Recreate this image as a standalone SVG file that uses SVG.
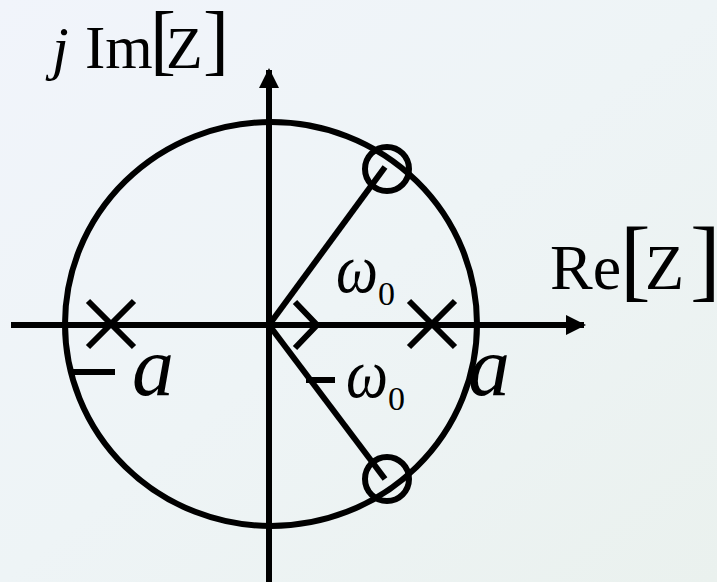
<svg xmlns="http://www.w3.org/2000/svg" width="717" height="582" viewBox="0 0 717 582">
<defs>
<linearGradient id="bg" x1="0" y1="0" x2="1" y2="1">
<stop offset="0" stop-color="#f1f4fb"/>
<stop offset="0.5" stop-color="#eef4f6"/>
<stop offset="1" stop-color="#eaf1ee"/>
</linearGradient>
<marker id="ah" viewBox="0 0 10 10" refX="9" refY="5" markerWidth="3.4" markerHeight="3.4" markerUnits="strokeWidth" orient="auto">
<path d="M0,0 L10,5 L0,10 z" fill="#000"/>
</marker>
</defs>
<style>
.ln{stroke:#000;stroke-width:6;fill:none}
.t{font-family:"Liberation Serif","Times New Roman",serif;fill:#000}
.i{font-style:italic}
</style>
<rect width="717" height="582" fill="url(#bg)"/>
<g id="axes">
<line class="ln" x1="11" y1="325" x2="584" y2="325" marker-end="url(#ah)"/>
<line class="ln" x1="269" y1="582" x2="269" y2="70" marker-end="url(#ah)"/>
</g>
<g id="unit-circle"><ellipse class="ln" cx="271" cy="324" rx="206" ry="202"/></g>
<g id="connectors">
<line class="ln" x1="269" y1="325" x2="385" y2="167"/>
<line class="ln" x1="269" y1="325" x2="385" y2="479"/>
<polyline class="ln" points="295,302 317,325 295,348"/>
</g>
<g id="zero-upper"><circle class="ln" cx="387" cy="169" r="22" stroke-width="5"/></g>
<g id="zero-lower"><circle class="ln" cx="387" cy="479" r="22" stroke-width="5"/></g>
<g id="pole-left"><path class="ln" d="M88,301 L134,347 M134,301 L88,347"/></g>
<g id="pole-right"><path class="ln" d="M409,301 L455,347 M455,301 L409,347"/></g>
<g id="labels">
<text class="t i" x="52" y="68" font-size="60">j</text>
<text class="t" x="85" y="68" font-size="61">Im</text>
<text class="t" x="150" y="66" font-size="78">[</text>
<text class="t" x="166" y="68" font-size="60">Z</text>
<text class="t" x="203" y="66" font-size="78">]</text>
<text class="t" x="550" y="289" font-size="64">Re</text>
<text class="t" x="620" y="290" font-size="92">[</text>
<text class="t" x="645" y="289" font-size="64">Z</text>
<text class="t" x="690" y="290" font-size="92">]</text>
<text class="t i" x="336" y="292" font-size="70" textLength="42" lengthAdjust="spacingAndGlyphs">ω</text>
<text class="t" x="378" y="305" font-size="34">0</text>
<line class="ln" x1="306" y1="380" x2="335" y2="380" stroke-width="4.5"/>
<text class="t i" x="346" y="397" font-size="70" textLength="42" lengthAdjust="spacingAndGlyphs">ω</text>
<text class="t" x="388" y="410" font-size="34">0</text>
<line class="ln" x1="70" y1="372" x2="115" y2="372" stroke-width="4.5"/>
<text class="t i" x="132" y="395" font-size="84">a</text>
<text class="t i" x="468" y="395" font-size="84">a</text>
</g>
</svg>
